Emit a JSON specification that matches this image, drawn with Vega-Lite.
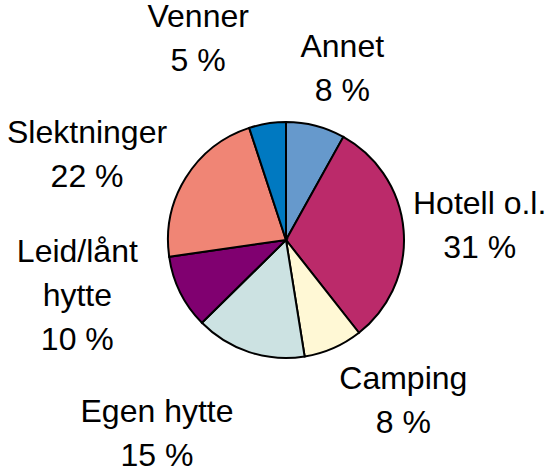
{
  "$schema": "https://vega.github.io/schema/vega-lite/v6.json",
  "width": 528,
  "height": 458,
  "autosize": "none",
  "padding": {"left": 22, "top": 11, "right": 0, "bottom": 0},
  "background": "white",
  "view": {"stroke": null},
  "config": {
    "text": {"font": "Liberation Sans", "fontSize": 32, "lineBreak": "\n", "lineHeight": 44, "baseline": "middle", "align": "center", "color": "black"}
  },
  "data": {
    "values": [
      {"nr": 1, "kategori": "Annet", "andel": 8, "etikett": "Annet\n8 %"},
      {"nr": 2, "kategori": "Hotell o.l.", "andel": 31, "etikett": "Hotell o.l.\n31 %"},
      {"nr": 3, "kategori": "Camping", "andel": 8, "etikett": "Camping\n8 %"},
      {"nr": 4, "kategori": "Egen hytte", "andel": 15, "etikett": "Egen hytte\n15 %"},
      {"nr": 5, "kategori": "Leid/lånt hytte", "andel": 10, "etikett": "Leid/lånt\nhytte\n10 %"},
      {"nr": 6, "kategori": "Slektninger", "andel": 22, "etikett": "Slektninger\n22 %"},
      {"nr": 7, "kategori": "Venner", "andel": 5, "etikett": "Venner\n5 %"}
    ]
  },
  "encoding": {
    "theta": {"field": "andel", "type": "quantitative", "stack": true},
    "order": {"field": "nr", "type": "quantitative"}
  },
  "layer": [
    {
      "mark": {"type": "arc", "radius": 118, "stroke": "black", "strokeWidth": 2},
      "encoding": {
        "color": {
          "field": "kategori",
          "type": "nominal",
          "legend": null,
          "scale": {
            "domain": ["Annet", "Hotell o.l.", "Camping", "Egen hytte", "Leid/lånt hytte", "Slektninger", "Venner"],
            "range": ["#6699CC", "#BB2A6A", "#FFF8D5", "#CCE2E2", "#800070", "#F08575", "#0079C1"]
          }
        }
      }
    },
    {
      "mark": {"type": "text", "radius": 201, "thetaOffset": 0.03},
      "encoding": {"text": {"condition": {"test": "datum.nr == 1", "field": "etikett"}, "value": ""}}
    },
    {
      "mark": {"type": "text", "radius": 197, "thetaOffset": -0.105},
      "encoding": {"text": {"condition": {"test": "datum.nr == 2", "field": "etikett"}, "value": ""}}
    },
    {
      "mark": {"type": "text", "radius": 182, "thetaOffset": -0.288},
      "encoding": {"text": {"condition": {"test": "datum.nr == 3", "field": "etikett"}, "value": ""}}
    },
    {
      "mark": {"type": "text", "radius": 215, "thetaOffset": 0.326},
      "encoding": {"text": {"condition": {"test": "datum.nr == 4", "field": "etikett"}, "value": ""}}
    },
    {
      "mark": {"type": "text", "radius": 209, "thetaOffset": 0.403},
      "encoding": {"text": {"condition": {"test": "datum.nr == 5", "field": "etikett"}, "value": ""}}
    },
    {
      "mark": {"type": "text", "radius": 226, "thetaOffset": -0.061},
      "encoding": {"text": {"condition": {"test": "datum.nr == 6", "field": "etikett"}, "value": ""}}
    },
    {
      "mark": {"type": "text", "radius": 240, "thetaOffset": -0.216},
      "encoding": {"text": {"condition": {"test": "datum.nr == 7", "field": "etikett"}, "value": ""}}
    }
  ]
}
